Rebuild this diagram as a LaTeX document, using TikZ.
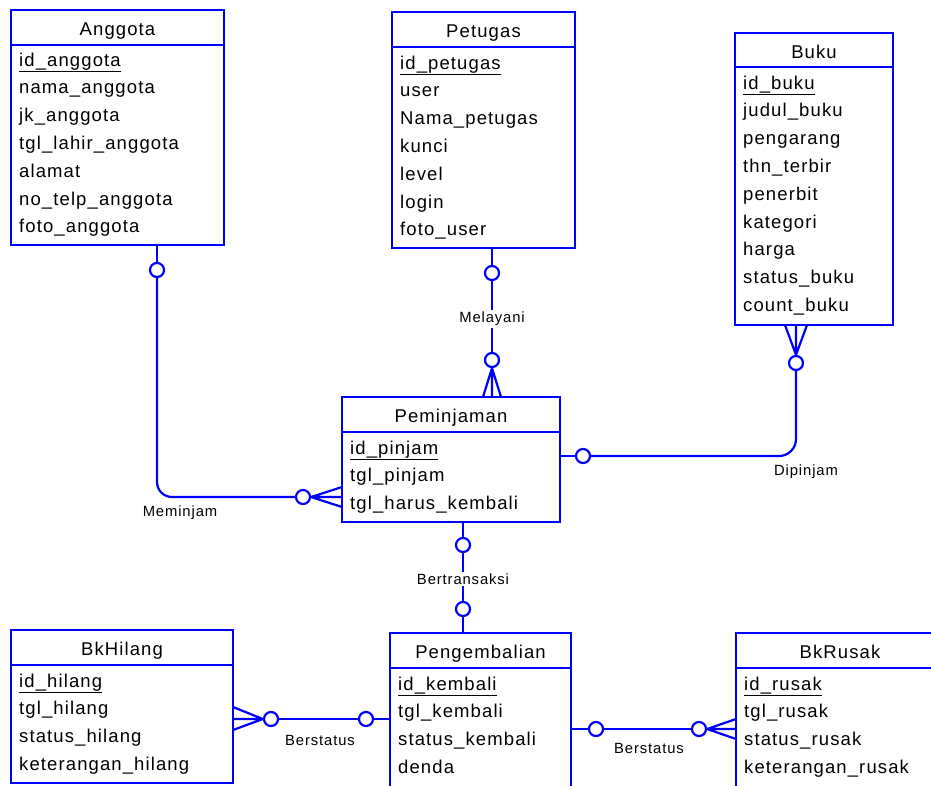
\documentclass[tikz,border=0pt]{standalone}
\usepackage{fontspec}
\setmainfont{Liberation Sans}[LetterSpace=6]
\usetikzlibrary{calc}

\tikzset{
	ent/.style={draw=blue, line width=2pt, anchor=north west, minimum height=35pt, inner sep=0pt, outer sep=0pt, text height=16pt, text depth=0pt, font=\fontsize{18.5}{22}\selectfont},
	ebody/.style={draw=blue, line width=2pt, anchor=north west, inner sep=0pt, outer sep=0pt},
	attr/.style={anchor=base west, inner sep=0pt, font=\fontsize{18.5}{22}\selectfont},
	rel/.style={blue, line width=2.2pt},
	opt/.style={circle, draw=blue, fill=white, line width=2.2pt, minimum size=14pt, inner sep=0pt},
	lbl/.style={font=\fontsize{14.8}{18}\selectfont, inner sep=2pt}
}

\begin{document}
\begin{tikzpicture}[x=1pt, y=-1pt]
	\clip (0,0) rectangle (931,785);

	\node[ent, minimum width=213pt] (anggota) at (11,10) {Anggota};
	\node[ebody, minimum width=213pt, minimum height=200pt] (anggota-b) at (anggota.south west) {};
	\foreach \a [count=\i from 0] in {\underline{id\_anggota},nama\_anggota,jk\_anggota,tgl\_lahir\_anggota,alamat,no\_telp\_anggota,foto\_anggota}
		\node[attr] at ($(anggota-b.north west)+(8,21+27.8*\i)$) {\a};

	\node[ent, minimum width=183pt] (petugas) at (392,12) {Petugas};
	\node[ebody, minimum width=183pt, minimum height=201pt] (petugas-b) at (petugas.south west) {};
	\foreach \a [count=\i from 0] in {\underline{id\_petugas},user,Nama\_petugas,kunci,level,login,foto\_user}
		\node[attr] at ($(petugas-b.north west)+(8,22+27.8*\i)$) {\a};

	\node[ent, minimum width=158pt, minimum height=34pt] (buku) at (735,33) {Buku};
	\node[ebody, minimum width=158pt, minimum height=258pt] (buku-b) at (buku.south west) {};
	\foreach \a [count=\i from 0] in {\underline{id\_buku},judul\_buku,pengarang,thn\_terbir,penerbit,kategori,harga,status\_buku,count\_buku}
		\node[attr] at ($(buku-b.north west)+(8,22+27.8*\i)$) {\a};

	\node[ent, minimum width=218pt] (pinjam) at (342,397) {Peminjaman};
	\node[ebody, minimum width=218pt, minimum height=90pt] (pinjam-b) at (pinjam.south west) {};
	\foreach \a [count=\i from 0] in {\underline{id\_pinjam},tgl\_pinjam,tgl\_harus\_kembali}
		\node[attr] at ($(pinjam-b.north west)+(8,22+27.8*\i)$) {\a};

	\node[ent, minimum width=222pt] (hilang) at (11,630) {BkHilang};
	\node[ebody, minimum width=222pt, minimum height=118pt] (hilang-b) at (hilang.south west) {};
	\foreach \a [count=\i from 0] in {\underline{id\_hilang},tgl\_hilang,status\_hilang,keterangan\_hilang}
		\node[attr] at ($(hilang-b.north west)+(8,22+27.8*\i)$) {\a};

	\node[ent, minimum width=181pt] (kembali) at (390,633) {Pengembalian};
	\node[ebody, minimum width=181pt, minimum height=140pt] (kembali-b) at (kembali.south west) {};
	\foreach \a [count=\i from 0] in {\underline{id\_kembali},tgl\_kembali,status\_kembali,denda}
		\node[attr] at ($(kembali-b.north west)+(8,22+27.8*\i)$) {\a};

	\node[ent, minimum width=230pt] (rusak) at (736,633) {\hspace*{-22pt}BkRusak};
	\node[ebody, minimum width=230pt, minimum height=140pt] (rusak-b) at (rusak.south west) {};
	\foreach \a [count=\i from 0] in {\underline{id\_rusak},tgl\_rusak,status\_rusak,keterangan\_rusak}
		\node[attr] at ($(rusak-b.north west)+(8,22+27.8*\i)$) {\a};

	\node[opt] (m1) at (157,270) {};
	\node[opt] (m2) at (303,497) {};
	\draw[rel] (anggota-b.south -| m1) -- (m1);
	\draw[rel, rounded corners=15pt] (m1) -- (m1 |- m2) -- (m2);
	\draw[rel] (m2.east) -- (pinjam-b.west |- m2) (m2.east) -- ($(pinjam-b.west |- m2)+(0,-10)$) (m2.east) -- ($(pinjam-b.west |- m2)+(0,10)$);
	\node[lbl] (lm) at (180,513) {Meminjam};

	\node[opt] (l1) at (492,273) {};
	\node[opt] (l2) at (492,360) {};
	\draw[rel] (petugas-b.south -| l1) -- (l1) (l1) -- (l2);
	\draw[rel] (l2.south) -- (pinjam.north -| l2) (l2.south) -- ($(pinjam.north -| l2)+(-9,0)$) (l2.south) -- ($(pinjam.north -| l2)+(9,0)$);
	\node[lbl, fill=white] (ll) at (492,319) {Melayani};

	\node[opt] (d1) at (796,363) {};
	\node[opt] (d2) at (583,456) {};
	\draw[rel] (d1.north) -- (buku-b.south -| d1) (d1.north) -- ($(buku-b.south -| d1)+(-11,0)$) (d1.north) -- ($(buku-b.south -| d1)+(11,0)$);
	\draw[rel, rounded corners=17pt] (d1) -- (d1 |- d2) -- (d2);
	\draw[rel] (d2) -- (pinjam-b.east |- d2);
	\node[lbl] (ld) at (806,472) {Dipinjam};

	\node[opt] (t1) at (463,545) {};
	\node[opt] (t2) at (463,609) {};
	\draw[rel] (pinjam-b.south -| t1) -- (t1) (t1) -- (t2) (t2) -- (kembali.north -| t2);
	\node[lbl, fill=white] (lt) at (463,579) {Bertransaksi};

	\node[opt] (h1) at (271,719) {};
	\node[opt] (h2) at (366,719) {};
	\draw[rel] (h1.west) -- (hilang-b.east |- h1) (h1.west) -- ($(hilang-b.east |- h1)+(0,-12)$) (h1.west) -- ($(hilang-b.east |- h1)+(0,11)$);
	\draw[rel] (h1) -- (h2) (h2) -- (kembali-b.west |- h2);
	\node[lbl] (lh) at (320,740) {Berstatus};

	\node[opt] (r1) at (596,729) {};
	\node[opt] (r2) at (699,729) {};
	\draw[rel] (kembali-b.east |- r1) -- (r1) (r1) -- (r2);
	\draw[rel] (r2.east) -- (rusak-b.west |- r2) (r2.east) -- ($(rusak-b.west |- r2)+(0,-10)$) (r2.east) -- ($(rusak-b.west |- r2)+(0,10)$);
	\node[lbl] (lr) at (649,748) {Berstatus};
\end{tikzpicture}
\end{document}
